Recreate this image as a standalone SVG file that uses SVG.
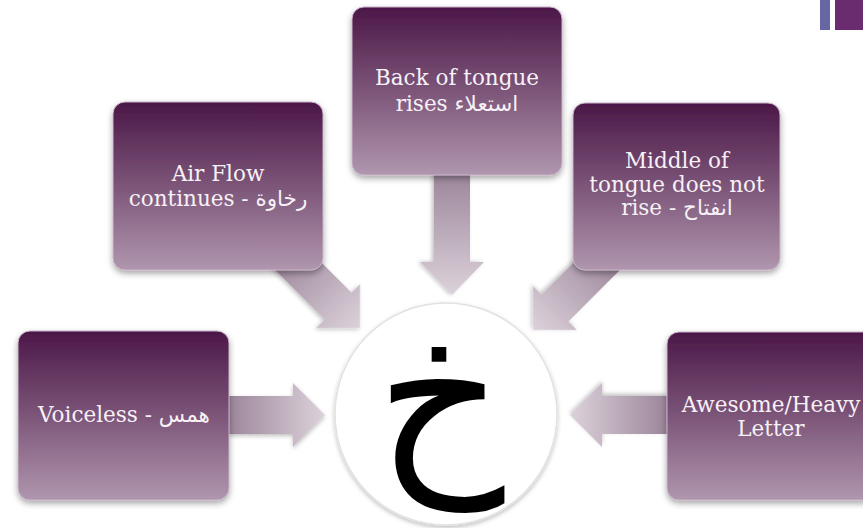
<svg xmlns="http://www.w3.org/2000/svg" width="863" height="528" viewBox="0 0 863 528">
  <defs>
    <linearGradient id="boxGrad" x1="0" y1="0" x2="0" y2="1">
      <stop offset="0" stop-color="#4b1747"/>
      <stop offset="0.5" stop-color="#7c5579"/>
      <stop offset="1" stop-color="#b096ae"/>
    </linearGradient>
    <linearGradient id="arrowGrad" x1="0" y1="0" x2="1" y2="0">
      <stop offset="0" stop-color="#9c869a"/>
      <stop offset="1" stop-color="#dcd2db"/>
    </linearGradient>
    <filter id="shadow" x="-20%" y="-20%" width="140%" height="140%">
      <feDropShadow dx="0" dy="3" stdDeviation="3" flood-color="#000" flood-opacity="0.35"/>
    </filter>
    <filter id="ashadow" x="-20%" y="-20%" width="140%" height="140%">
      <feDropShadow dx="0" dy="2" stdDeviation="2" flood-color="#000" flood-opacity="0.25"/>
    </filter>
  </defs>
  <style>
    .box { fill: url(#boxGrad); stroke: #c9b3c8; stroke-width: 1; filter: url(#shadow); }
    .lbl { font-family: "DejaVu Serif", "DejaVu Sans", serif; font-size: 21.5px; fill: #f7f1f6; text-anchor: middle; }
    .arr { fill: url(#arrowGrad); filter: url(#ashadow); }
  </style>

  <rect width="863" height="528" fill="#ffffff"/>

  <g id="decor">
    <rect x="820" y="0" width="10" height="30" fill="#6566a2"/>
    <rect x="835" y="0" width="28" height="30" fill="#6b2c6f"/>
  </g>

  <g id="connectors">
    <path class="arr" d="M -97,-19 L -32,-19 L -32,-32 L 0,0 L -32,32 L -32,19 L -97,19 Z" transform="translate(325,415)"/>
    <path class="arr" d="M -97,-19 L -32,-19 L -32,-32 L 0,0 L -32,32 L -32,19 L -97,19 Z" transform="translate(570,415) rotate(180)"/>
    <path class="arr" d="M -122,-18 L -33,-18 L -33,-32 L 0,0 L -33,32 L -33,18 L -122,18 Z" transform="translate(452,295) rotate(90)"/>
    <path class="arr" d="M -110,-19 L -31,-19 L -31,-31 L 0,0 L -31,31 L -31,19 L -110,19 Z" transform="translate(360,328) rotate(45)"/>
    <path class="arr" d="M -110,-19 L -31,-19 L -31,-31 L 0,0 L -31,31 L -31,19 L -110,19 Z" transform="translate(533,330) rotate(135)"/>
  </g>

  <g id="center">
    <circle cx="446" cy="414" r="111" fill="#ffffff" stroke="#e2e2e2" stroke-width="1.5" filter="url(#ashadow)"/>
    <text x="440" y="464" font-family="DejaVu Sans, sans-serif" font-size="200" fill="#000" text-anchor="middle">خ</text>
  </g>

  <g id="voiceless">
    <rect class="box" x="18" y="331" width="211" height="169" rx="12"/>
    <text class="lbl" x="124" y="422">Voiceless - همس</text>
  </g>

  <g id="airflow">
    <rect class="box" x="113" y="102" width="210" height="168" rx="12"/>
    <text class="lbl" x="218" y="181">Air Flow</text>
    <text class="lbl" x="218" y="206">continues - رخاوة</text>
  </g>

  <g id="backtongue">
    <rect class="box" x="352" y="7" width="210" height="168" rx="12"/>
    <text class="lbl" x="457" y="85">Back of tongue</text>
    <text class="lbl" x="457" y="111">rises استعلاء</text>
  </g>

  <g id="middletongue">
    <rect class="box" x="573" y="103" width="207" height="167" rx="12"/>
    <text class="lbl" x="677" y="168">Middle of</text>
    <text class="lbl" x="677" y="192">tongue does not</text>
    <text class="lbl" x="677" y="215">rise - انفتاح</text>
  </g>

  <g id="heavy">
    <rect class="box" x="667" y="332" width="210" height="168" rx="12"/>
    <text class="lbl" x="771" y="412">Awesome/Heavy</text>
    <text class="lbl" x="771" y="436">Letter</text>
  </g>
</svg>
